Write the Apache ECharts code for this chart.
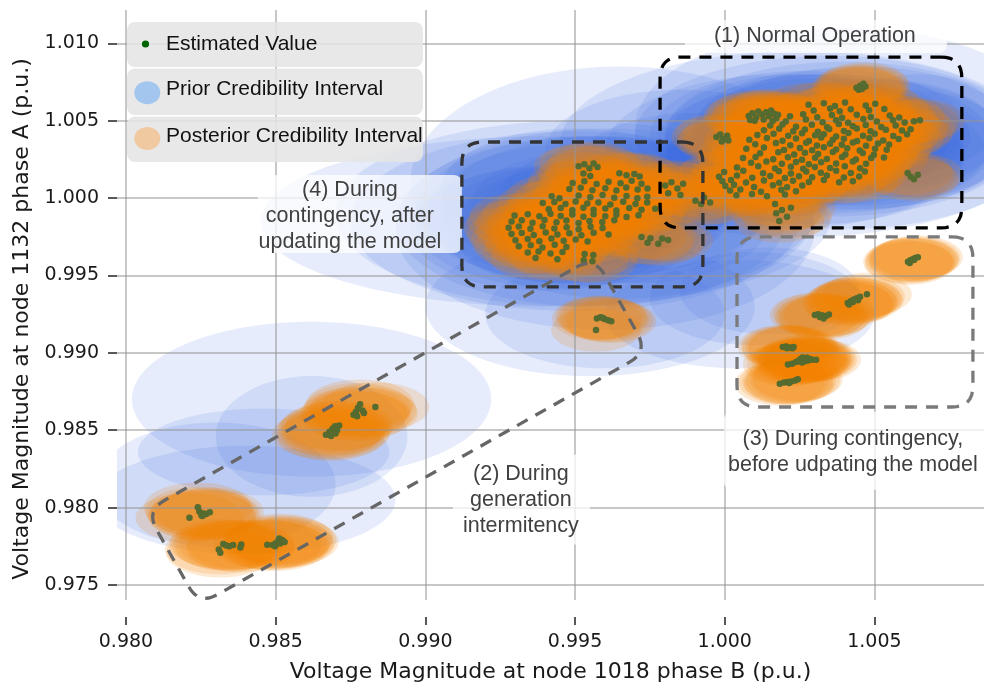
<!DOCTYPE html>
<html><head><meta charset="utf-8">
<script src="https://cdn.jsdelivr.net/npm/echarts@6/dist/echarts.min.js"></script>
<style>html,body{margin:0;padding:0;background:#fff}#c{width:984px;height:684px}</style>
</head><body><div id="c"></div>
<script>
// ---------------- DATA ----------------
const xTicks = [0.980, 0.985, 0.990, 0.995, 1.000, 1.005];
const yTicks = [0.975, 0.980, 0.985, 0.990, 0.995, 1.000, 1.005, 1.010];

// (1) normal operation estimates
const normalPts = [
[1.00440,1.00712],[1.00452,1.00725],[1.00463,1.00738],[1.00447,1.00700],[1.00470,1.00720],[1.00458,1.00705],
[1.00080,1.00530],[1.00092,1.00548],[1.00105,1.00520],[1.00112,1.00560],[1.00125,1.00540],[1.00138,1.00555],[1.00148,1.00528],[1.00155,1.00565],[1.00165,1.00545],[1.00172,1.00515],[1.00100,1.00500],[1.00085,1.00505],[1.00130,1.00508],[1.00160,1.00498],[1.00178,1.00538],
[0.99972,1.00395],[0.99985,1.00410],[0.99995,1.00380],[1.00008,1.00402],[1.00012,1.00372],[0.99990,1.00365],
[1.00280,1.00603],[1.00331,1.00612],[1.00368,1.00594],[1.00402,1.00618],[1.00471,1.00598],[1.00503,1.00609],
[1.00297,1.00566],[1.00352,1.00578],[1.00384,1.00561],[1.00421,1.00574],[1.00482,1.00567],[1.00533,1.00575],
[1.00218,1.00528],[1.00262,1.00541],[1.00309,1.00522],[1.00358,1.00536],[1.00392,1.00519],[1.00441,1.00538],[1.00488,1.00524],[1.00551,1.00533],[1.00583,1.00521],
[1.00204,1.00495],[1.00271,1.00508],[1.00327,1.00489],[1.00372,1.00503],[1.00412,1.00486],[1.00463,1.00511],[1.00508,1.00494],[1.00562,1.00502],[1.00601,1.00488],[1.00632,1.00497],
[1.00152,1.00468],[1.00193,1.00476],[1.00238,1.00461],[1.00291,1.00473],[1.00342,1.00458],[1.00381,1.00479],[1.00428,1.00464],[1.00471,1.00472],[1.00523,1.00459],[1.00571,1.00468],
[1.00131,1.00438],[1.00182,1.00447],[1.00229,1.00431],[1.00268,1.00443],[1.00311,1.00428],[1.00349,1.00446],[1.00398,1.00434],[1.00441,1.00449],[1.00487,1.00431],[1.00538,1.00442],[1.00592,1.00436],[1.00621,1.00445],
[1.00109,1.00408],[1.00163,1.00416],[1.00212,1.00402],[1.00258,1.00419],[1.00302,1.00405],[1.00331,1.00413],[1.00372,1.00398],[1.00413,1.00421],[1.00462,1.00403],[1.00501,1.00415],[1.00563,1.00401],[1.00609,1.00412],
[1.00082,1.00376],[1.00141,1.00388],[1.00193,1.00371],[1.00238,1.00384],[1.00281,1.00369],[1.00322,1.00391],[1.00361,1.00376],[1.00398,1.00383],[1.00442,1.00368],[1.00483,1.00386],[1.00529,1.00372],[1.00581,1.00381],
[1.00102,1.00348],[1.00171,1.00355],[1.00219,1.00341],[1.00272,1.00357],[1.00308,1.00339],[1.00352,1.00351],[1.00391,1.00344],[1.00428,1.00359],[1.00472,1.00338],[1.00512,1.00352],[1.00549,1.00346],
[1.00072,1.00318],[1.00131,1.00326],[1.00198,1.00311],[1.00251,1.00324],[1.00292,1.00309],[1.00331,1.00328],[1.00372,1.00313],[1.00409,1.00321],[1.00451,1.00308],[1.00502,1.00319],[1.00541,1.00312],
[1.00118,1.00289],[1.00179,1.00296],[1.00232,1.00281],[1.00268,1.00293],[1.00312,1.00285],[1.00361,1.00298],[1.00403,1.00282],[1.00461,1.00291],[1.00498,1.00279],
[1.00061,1.00258],[1.00103,1.00266],[1.00162,1.00251],[1.00211,1.00263],[1.00258,1.00248],[1.00302,1.00261],[1.00341,1.00253],[1.00392,1.00266],[1.00438,1.00249],[1.00489,1.00258],[1.00532,1.00262],
[1.00088,1.00228],[1.00139,1.00236],[1.00191,1.00221],[1.00238,1.00233],[1.00281,1.00219],[1.00322,1.00231],[1.00372,1.00224],[1.00428,1.00236],[1.00472,1.00221],
[1.00041,1.00198],[1.00112,1.00206],[1.00168,1.00191],[1.00221,1.00203],[1.00262,1.00189],[1.00301,1.00201],[1.00352,1.00194],[1.00401,1.00206],[1.00452,1.00192],
[0.99998,1.00168],[1.00062,1.00176],[1.00128,1.00161],[1.00181,1.00173],[1.00221,1.00159],[1.00272,1.00171],[1.00321,1.00164],[1.00372,1.00176],[1.00421,1.00162],[1.00468,1.00171],
[0.99981,1.00138],[1.00041,1.00146],[1.00092,1.00131],[1.00152,1.00143],[1.00201,1.00129],[1.00248,1.00141],[1.00292,1.00134],[1.00341,1.00146],[1.00398,1.00132],[1.00449,1.00139],
[0.99992,1.00108],[1.00021,1.00116],[1.00071,1.00101],[1.00131,1.00113],[1.00182,1.00099],[1.00228,1.00111],[1.00281,1.00104],[1.00331,1.00116],[1.00382,1.00102],[1.00428,1.00109],
[1.00002,1.00078],[1.00031,1.00086],[1.00098,1.00071],[1.00161,1.00083],[1.00208,1.00069],[1.00259,1.00081],
[1.00018,1.00048],[1.00052,1.00056],[1.00121,1.00041],[1.00189,1.00053],[1.00238,1.00044],
[1.00039,1.00018],[1.00091,1.00026],[1.00141,1.00011],[1.00201,1.00023],
[1.00168,0.99961],[1.00191,0.99922],[1.00208,0.99879],[1.00182,0.99851],[1.00221,0.99938],[1.00172,0.99902],
[1.00611,1.00162],[1.00632,1.00121],[1.00645,1.00151],[1.00652,1.00502],[1.00621,1.00138],
[0.99801,1.00081],[0.99822,1.00102],[0.99842,1.00061],[0.99861,1.00092],[0.99811,1.00031],[0.99852,1.00019],
[0.99902,0.99982],[0.99931,1.00003],[0.99951,0.99972],[0.99921,0.99961]
];

// (4) during contingency, after updating the model
const afterPts = [
[0.99512,1.00205],[0.99531,1.00218],[0.99548,1.00192],[0.99562,1.00224],[0.99575,1.00201],
[0.99528,1.00158],[0.99551,1.00142],[0.99648,1.00161],[0.99672,1.00148],[0.99698,1.00155],[0.99716,1.00139],
[0.99492,1.00098],[0.99531,1.00109],[0.99572,1.00091],[0.99612,1.00105],[0.99652,1.00096],[0.99689,1.00112],[0.99722,1.00093],
[0.99481,1.00058],[0.99519,1.00066],[0.99558,1.00051],[0.99601,1.00063],[0.99638,1.00049],[0.99671,1.00068],[0.99709,1.00055],[0.99742,1.00061],
[0.99422,1.00012],[0.99448,0.99998],[0.99512,1.00016],[0.99551,1.00005],[0.99592,1.00019],[0.99631,1.00002],[0.99672,1.00014],[0.99708,0.99998],[0.99741,1.00009],
[0.99392,0.99968],[0.99431,0.99975],[0.99468,0.99961],[0.99502,0.99978],[0.99541,0.99964],[0.99578,0.99972],[0.99618,0.99958],[0.99661,0.99976],[0.99702,0.99962],[0.99741,0.99971],
[0.99412,0.99928],[0.99452,0.99936],[0.99491,0.99921],[0.99528,0.99938],[0.99562,0.99925],[0.99601,0.99933],[0.99638,0.99919],[0.99681,0.99935],[0.99722,0.99924],[0.99768,0.99931],
[0.99298,0.99888],[0.99342,0.99895],[0.99381,0.99882],[0.99418,0.99898],[0.99452,0.99884],[0.99491,0.99893],[0.99528,0.99879],[0.99562,0.99896],[0.99601,0.99883],[0.99638,0.99892],[0.99672,0.99878],[0.99712,0.99889],
[0.99288,0.99848],[0.99322,0.99856],[0.99358,0.99841],[0.99398,0.99858],[0.99438,0.99843],[0.99471,0.99855],[0.99512,0.99839],[0.99548,0.99852],[0.99591,0.99846],[0.99631,0.99857],
[0.99278,0.99808],[0.99312,0.99816],[0.99351,0.99801],[0.99392,0.99818],[0.99431,0.99804],[0.99472,0.99812],[0.99512,0.99799],[0.99552,0.99815],[0.99592,0.99806],
[0.99288,0.99768],[0.99322,0.99775],[0.99362,0.99761],[0.99402,0.99778],[0.99441,0.99764],[0.99481,0.99772],[0.99521,0.99759],[0.99562,0.99776],[0.99612,0.99765],[0.99722,0.99748],[0.99752,0.99741],[0.99791,0.99738],[0.99811,0.99729],
[0.99301,0.99728],[0.99342,0.99735],[0.99381,0.99721],[0.99421,0.99738],[0.99462,0.99724],[0.99502,0.99732],[0.99542,0.99719],[0.99742,0.99712],[0.99778,0.99705],
[0.99312,0.99688],[0.99352,0.99695],[0.99391,0.99681],[0.99432,0.99698],[0.99471,0.99684],
[0.99342,0.99648],[0.99378,0.99655],[0.99418,0.99641],[0.99458,0.99652],[0.99532,0.99638],[0.99561,0.99632],
[0.99368,0.99612],[0.99441,0.99605],[0.99529,0.99598],[0.99558,0.99592]
];

// transition cluster near (0.996, 0.992)
const transitPts = [
[0.99573,0.99222],[0.99585,0.99230],[0.99598,0.99218],[0.99610,0.99210],[0.99621,0.99204],[0.99592,0.99226],[0.99570,0.99148]
];

// (3) during contingency, before updating the model
const beforePts = [
[1.00612,0.99588],[1.00620,0.99598],[1.00628,0.99605],[1.00636,0.99612],[1.00645,0.99618],[1.00618,0.99580],[1.00632,0.99600],
[1.00411,0.99322],[1.00422,0.99335],[1.00431,0.99345],[1.00441,0.99352],[1.00452,0.99362],[1.00428,0.99328],[1.00445,0.99340],[1.00475,0.99378],[1.00415,0.99312],
[1.00301,0.99245],[1.00312,0.99250],[1.00325,0.99242],[1.00338,0.99238],[1.00348,0.99248],[1.00318,0.99232],[1.00330,0.99222],
[1.00194,0.99038],[1.00205,0.99041],[1.00218,0.99035],[1.00226,0.99030],[1.00208,0.99030],[1.00230,0.99038],
[1.00211,0.98925],[1.00225,0.98930],[1.00238,0.98940],[1.00252,0.98958],[1.00262,0.98952],[1.00271,0.98962],[1.00278,0.98950],[1.00285,0.98960],[1.00268,0.98945],[1.00292,0.98956],[1.00258,0.98938],[1.00245,0.98945],[1.00305,0.98955],[1.00275,0.98968],[1.00260,0.98970],
[1.00184,0.98800],[1.00198,0.98808],[1.00210,0.98812],[1.00222,0.98815],[1.00235,0.98822],[1.00244,0.98830],[1.00215,0.98805]
];

// (2) during generation intermittency (upper and lower groups)
const intermitUpperPts = [
[0.98668,0.98470],[0.98680,0.98490],[0.98690,0.98510],[0.98698,0.98525],[0.98705,0.98500],[0.98712,0.98530],[0.98685,0.98462],[0.98700,0.98478],
[0.98760,0.98600],[0.98768,0.98620],[0.98775,0.98645],[0.98782,0.98668],[0.98790,0.98628],[0.98772,0.98590],[0.98795,0.98612],[0.98833,0.98650]
];
const intermitLowerPts = [
[0.98212,0.97935],[0.98245,0.97975],[0.98252,0.97950],[0.98260,0.97962],[0.98268,0.97958],[0.98280,0.97970],[0.98240,0.98002],[0.98255,0.97945],
[0.98310,0.97730],[0.98315,0.97708],[0.98325,0.97765],[0.98335,0.97755],[0.98345,0.97750],[0.98358,0.97758],[0.98385,0.97762],[0.98382,0.97742],
[0.98472,0.97760],[0.98490,0.97758],[0.98500,0.97770],[0.98508,0.97782],[0.98515,0.97768],[0.98522,0.97790],[0.98530,0.97778],[0.98498,0.97750],[0.98512,0.97800]
];

// posterior credibility half-widths per regime (p.u.)
const regimePts = [normalPts, afterPts, transitPts, beforePts, intermitUpperPts, intermitLowerPts];
const postHalfX = [0.0015, 0.0015, 0.0015, 0.0015, 0.0018, 0.0018];
const postHalfY = [0.0014, 0.0014, 0.0014, 0.0014, 0.0016, 0.0016];

// prior credibility intervals: centre x, centre y, half-width x, half-width y (p.u.)
const priorIntervals = [
  // normal operation
  [1.0010,1.0015,0.0035,0.0030],[1.0020,1.0025,0.0040,0.0032],[1.0030,1.0035,0.0040,0.0035],
  [1.0040,1.0040,0.0040,0.0035],[1.0050,1.0045,0.0040,0.0032],[1.0035,1.0045,0.0045,0.0038],
  [1.0025,1.0040,0.0045,0.0040],[1.0045,1.0030,0.0042,0.0035],[1.0015,1.0035,0.0038,0.0035],
  [1.0055,1.0035,0.0035,0.0030],[1.0030,1.0050,0.0035,0.0030],[1.0030,1.0025,0.0050,0.0042],
  [1.0035,1.0035,0.0055,0.0045],[1.0040,1.0040,0.0060,0.0048],[1.0020,1.0030,0.0060,0.0050],
  [1.0045,1.0045,0.0050,0.0040],[1.0040,1.0045,0.0070,0.0065],[1.0025,1.0035,0.0080,0.0060],
  [1.0030,1.0035,0.0035,0.0030],[1.0020,1.0030,0.0035,0.0030],[1.0040,1.0040,0.0035,0.0030],
  [1.0010,1.0025,0.0030,0.0028],[1.0050,1.0040,0.0032,0.0028],[1.0030,1.0045,0.0040,0.0032],
  [1.0035,1.0030,0.0045,0.0035],[1.0025,1.0040,0.0050,0.0042],[1.0045,1.0035,0.0050,0.0042],
  [1.0035,1.0040,0.0065,0.0052],[0.9985,1.0030,0.0045,0.0040],[0.9990,1.0020,0.0040,0.0035],
  [1.0060,1.0035,0.0035,0.0035],[1.0065,1.0040,0.0030,0.0040],
  // after updating
  [0.9945,0.9985,0.0040,0.0035],[0.9955,0.9995,0.0040,0.0035],[0.9965,1.0000,0.0040,0.0035],
  [0.9940,0.9980,0.0045,0.0040],[0.9950,0.9990,0.0050,0.0045],[0.9960,0.9995,0.0055,0.0045],
  [0.9945,0.9975,0.0035,0.0030],[0.9970,0.9985,0.0045,0.0040],[0.9950,1.0005,0.0045,0.0040],
  [0.9955,0.9985,0.0065,0.0055],[0.9950,0.9990,0.0080,0.0060],[0.9960,0.9980,0.0070,0.0065],
  [0.9940,0.9985,0.0095,0.0055],[0.9965,1.0010,0.0070,0.0075],
  [0.9950,0.9988,0.0038,0.0032],[0.9960,0.9990,0.0042,0.0036],[0.9945,0.9982,0.0048,0.0040],
  [0.9955,0.9992,0.0058,0.0048],[0.9950,0.9985,0.0075,0.0058],
  // transition
  [0.9960,0.9925,0.0040,0.0035],[0.9955,0.9930,0.0055,0.0045],
  // before updating
  [1.0010,0.9935,0.0035,0.0030],[1.0005,0.9925,0.0045,0.0035],[1.0015,0.9940,0.0030,0.0028],
  // generation intermittency
  [0.9862,0.9846,0.0032,0.0039],[0.9862,0.9870,0.0060,0.0050],[0.9846,0.9836,0.0042,0.0028],
  [0.9840,0.9805,0.0050,0.0035],[0.9830,0.9815,0.0040,0.0040]
];

// annotation regions (data units)
const regionBoxes = [
  [[0.99784,1.00911],[1.00792,1.00911],[1.00792,0.99807],[0.99784,0.99807]],
  [[0.99122,1.00362],[0.99927,1.00362],[0.99927,0.99426],[0.99122,0.99426]],
  [[1.00041,0.99749],[1.00829,0.99749],[1.00829,0.98650],[1.00041,0.98650]],
  [[0.98067,0.97979],[0.99565,0.99620],[0.99743,0.99006],[0.98244,0.97371]]
];
const regionColors = ['#000000', '#333333', '#7a7a7a', '#666666'];

const annoTexts = ['(1) Normal Operation', '(4) During\ncontingency, after\nupdating the model',
  '(2) During\ngeneration\nintermitency', '(3) During contingency,\nbefore udpating the model'];
const annoAnchorX = [1.00301, 0.98748, 0.99319, 1.00428];
const annoAnchorY = [1.01047, 0.99885, 0.98050, 0.98360];
const annoBoxX0 = [0.99867, 0.98441, 0.99092, 0.99997];
const annoBoxX1 = [1.00742, 0.99122, 0.99550, 1.00900];
const annoBoxY0 = [1.01150, 1.00149, 0.98343, 0.98619];
const annoBoxY1 = [1.00937, 0.99645, 0.97762, 0.98115];

// ---------------- BUILD ----------------
const allPts = [].concat(...regimePts);
const postData = [];
regimePts.forEach((pts, g) => {
  pts.forEach(p => postData.push([p[0], p[1], postHalfX[g], postHalfY[g]]));
});

function ellipseRenderer(fill) {
  return function (params, api) {
    const cx = api.value(0), cy = api.value(1);
    const c = api.coord([cx, cy]);
    const s = api.size([api.value(2), api.value(3)], [cx, cy]);
    return { type: 'ellipse', shape: { cx: c[0], cy: c[1], rx: s[0], ry: s[1] }, style: { fill: fill } };
  };
}

function roundedPoly(pts, r) {
  const n = pts.length, A = [], B = [];
  for (let i = 0; i < n; i++) {
    const p = pts[i], pp = pts[(i + n - 1) % n], pn = pts[(i + 1) % n];
    const l1 = Math.hypot(pp[0] - p[0], pp[1] - p[1]), l2 = Math.hypot(pn[0] - p[0], pn[1] - p[1]);
    const rr = Math.min(r, l1 / 2, l2 / 2);
    A.push([p[0] + (pp[0] - p[0]) * rr / l1, p[1] + (pp[1] - p[1]) * rr / l1]);
    B.push([p[0] + (pn[0] - p[0]) * rr / l2, p[1] + (pn[1] - p[1]) * rr / l2]);
  }
  const out = [];
  for (let k = 1; k <= n; k++) {
    const i = k % n;
    const a = A[i], b = B[i], c = pts[i];
    for (let t = 0; t <= 1.0001; t += 0.125) {
      const u = 1 - t;
      out.push([u * u * a[0] + 2 * u * t * c[0] + t * t * b[0], u * u * a[1] + 2 * u * t * c[1] + t * t * b[1]]);
    }
  }
  return out;
}

const boxData = regionBoxes.map(b => [].concat(...b));
const annoData = annoTexts.map((t, i) => [annoAnchorX[i], annoAnchorY[i], annoBoxX0[i], annoBoxY0[i], annoBoxX1[i], annoBoxY1[i]]);

const axisFont = 'DejaVu Sans';
const txtFont = 'Liberation Sans';

const chart = echarts.init(document.getElementById('c'));
chart.setOption({
  animation: false,
  backgroundColor: '#ffffff',
  grid: { left: 117, right: 0, top: 10, bottom: 84, containLabel: false, outerBoundsMode: 'none' },
  xAxis: {
    type: 'value', min: 0.9797, max: 1.00866, offset: 17, z: 3,
    axisLine: { show: false },
    axisTick: { show: true, length: 8, lineStyle: { color: '#222', width: 1.5 }, customValues: xTicks },
    axisLabel: { customValues: xTicks, formatter: v => v.toFixed(3), fontFamily: axisFont, fontSize: 19, color: '#1a1a1a', margin: 16 },
    splitLine: { show: true, lineStyle: { color: 'rgba(150,150,150,0.7)', width: 1.5 } },
    name: 'Voltage Magnitude at node 1018 phase B (p.u.)', nameLocation: 'middle', nameGap: 44,
    nameTextStyle: { fontFamily: axisFont, fontSize: 22, color: '#1a1a1a' }
  },
  yAxis: {
    type: 'value', min: 0.97403, max: 1.01215, z: 3,
    axisLine: { show: false },
    axisTick: { show: true, length: 9, lineStyle: { color: '#222', width: 1.5 }, customValues: yTicks },
    axisLabel: { customValues: yTicks, formatter: v => v.toFixed(3), fontFamily: axisFont, fontSize: 19, color: '#1a1a1a', margin: 18 },
    splitLine: { show: true, lineStyle: { color: 'rgba(150,150,150,0.7)', width: 1.5 } },
    name: 'Voltage Magnitude at node 1132 phase A (p.u.)', nameLocation: 'middle', nameGap: 83,
    nameTextStyle: { fontFamily: axisFont, fontSize: 22, color: '#1a1a1a', padding: [0, 28, 0, 0] }
  },
  series: [
    { type: 'custom', name: 'Prior Credibility Interval', z: 1, clip: true, data: priorIntervals,
      encode: { x: 0, y: 1 }, renderItem: ellipseRenderer('rgba(65,105,225,0.13)') },
    { type: 'custom', name: 'Posterior Credibility Interval', z: 2, clip: true, data: postData,
      encode: { x: 0, y: 1 }, renderItem: ellipseRenderer('rgba(245,130,0,0.17)') },
    { type: 'scatter', name: 'Estimated Value', z: 4, data: allPts, symbolSize: 6.5,
      itemStyle: { color: '#556b2f', opacity: 1 } },
    { type: 'custom', name: 'annotations', z: 5, clip: true, data: annoData, encode: { x: 0, y: 1 },
      renderItem: function (params, api) {
        const i = params.dataIndex;
        const t = api.coord([api.value(0), api.value(1)]);
        const p0 = api.coord([api.value(2), api.value(3)]);
        const p1 = api.coord([api.value(4), api.value(5)]);
        return { type: 'group', children: [
          { type: 'rect', shape: { x: p0[0], y: p0[1], width: p1[0] - p0[0], height: p1[1] - p0[1], r: 8 },
            style: { fill: 'rgba(255,255,255,0.75)' } },
          { type: 'text', x: t[0], y: t[1], style: { text: annoTexts[i], fill: '#404040', fontFamily: txtFont,
            fontSize: 21.5, lineHeight: 26, align: 'center', verticalAlign: 'middle' } }
        ] };
      } },
    { type: 'custom', name: 'regions', z: 6, clip: true, data: boxData, encode: { x: 0, y: 1 },
      renderItem: function (params, api) {
        const pts = [];
        for (let k = 0; k < 4; k++) pts.push(api.coord([api.value(2 * k), api.value(2 * k + 1)]));
        return { type: 'polygon', shape: { points: roundedPoly(pts, 21) },
          style: { fill: null, stroke: regionColors[params.dataIndex], lineWidth: 3.3, lineDash: [12, 9] } };
      } }
  ],
  graphic: { elements: [
    { type: 'rect', z: 10, shape: { x: 127, y: 22, width: 296, height: 45, r: 8 }, style: { fill: 'rgba(229,229,229,0.88)' } },
    { type: 'rect', z: 10, shape: { x: 127, y: 68.5, width: 296, height: 46.5, r: 8 }, style: { fill: 'rgba(229,229,229,0.88)' } },
    { type: 'rect', z: 10, shape: { x: 127, y: 116.5, width: 296, height: 45.5, r: 8 }, style: { fill: 'rgba(229,229,229,0.88)' } },
    { type: 'circle', z: 11, shape: { cx: 145.5, cy: 44, r: 3.6 }, style: { fill: '#006400' } },
    { type: 'ellipse', z: 11, shape: { cx: 147.3, cy: 92.7, rx: 13, ry: 11.5 }, style: { fill: '#a3c6ee' } },
    { type: 'ellipse', z: 11, shape: { cx: 147.3, cy: 138.5, rx: 13, ry: 11.5 }, style: { fill: '#f1c9a1' } },
    { type: 'text', z: 11, x: 166, y: 44, style: { text: 'Estimated Value', fill: '#111', fontFamily: txtFont, fontSize: 21, verticalAlign: 'middle' } },
    { type: 'text', z: 11, x: 166, y: 89.5, style: { text: 'Prior Credibility Interval', fill: '#111', fontFamily: txtFont, fontSize: 21, verticalAlign: 'middle' } },
    { type: 'text', z: 11, x: 166, y: 136.5, style: { text: 'Posterior Credibility Interval', fill: '#111', fontFamily: txtFont, fontSize: 21, verticalAlign: 'middle' } }
  ] }
});
</script>
</body></html>
